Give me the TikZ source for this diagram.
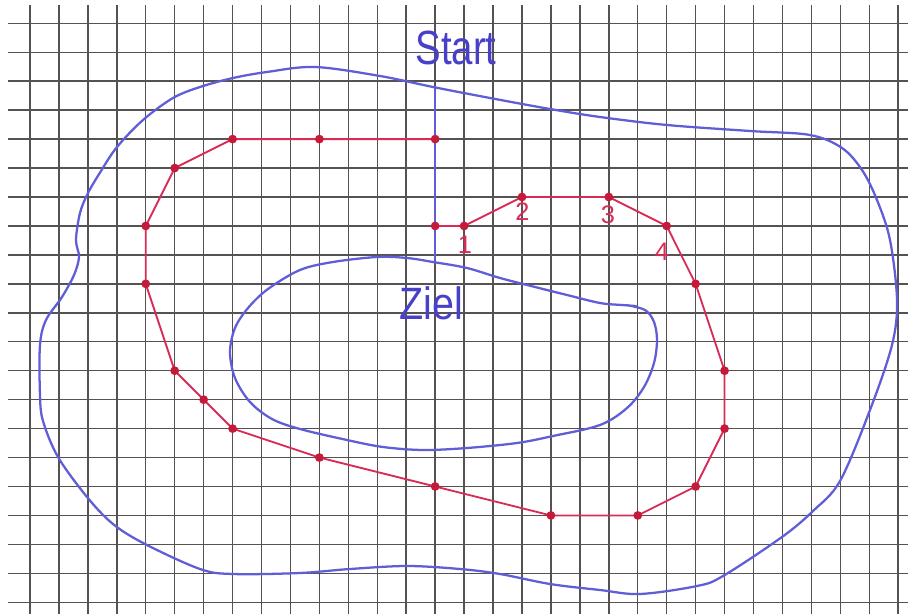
\documentclass[tikz,border=0pt]{standalone}
\usepackage{fontspec}
\setmainfont{Liberation Sans}
\definecolor{gridc}{RGB}{86,82,84}
\definecolor{penblue}{RGB}{96,94,214}
\definecolor{inkblue}{RGB}{72,64,200}
\definecolor{penred}{RGB}{216,44,86}
\definecolor{dotred}{RGB}{198,26,58}
\tikzset{
  gridline/.style={draw=gridc, line width=1.1pt},
  blueline/.style={draw=penblue, line width=1.7pt, line cap=round, line join=round},
  redline/.style={draw=penred, line width=1.4pt, line join=round},
  reddot/.style={fill=dotred, draw=none},
  bluetext/.style={text=inkblue, inner sep=0pt, anchor=base},
  redtext/.style={text=penred, inner sep=0pt, anchor=base, font=\fontsize{19}{21}\selectfont},
}
\begin{document}
\begin{tikzpicture}[x={(0.75pt,0)}, y={(0,-0.75pt)}]
\useasboundingbox (0,0) rectangle (908,614);
\fill[white] (0,0) rectangle (908,614);
% squared paper
\foreach \k in {0,...,30} \draw[gridline] ({30+28.94*\k},5) -- ({30+28.94*\k},614);
\foreach \j in {0,...,20} \draw[gridline] (8,{23.3+28.95*\j}) -- (908,{23.3+28.95*\j});
% outer blue boundary
\draw[blueline] plot[smooth cycle, tension=0.55] coordinates {
 (315,67) (380,76) (433,87) (490,98) (550,109) (600,117) (667,125) (750,131)
 (810,135) (842,148) (862,170) (877,200) (890,240) (897,300) (892,345) (870,410)
 (840,481) (813,511) (782,537) (723,576) (697,586) (640,594) (600,590) (550,584)
 (500,574) (460,569) (407,566) (350,569) (300,573) (233,574) (200,569) (145,544)
 (113,524) (87,497) (58,457) (43,421) (40,395) (40,345) (46,320) (62,297) (74,275)
 (79,257) (76,240) (80,213) (88,193) (101,171) (117,147) (143,120) (173,98)
 (200,87) (233,78) (267,72)};
% inner blue boundary
\draw[blueline] plot[smooth, tension=0.55] coordinates {
 (626,305) (645,310) (654,322) (657,340) (654,363) (644,387) (627,408) (600,425)
 (553,436) (517,443) (467,448) (423,450) (383,447) (347,440) (300,429) (272,419)
 (250,402) (235,378) (230,352) (235,328) (248,308) (268,289) (300,270) (333,262)
 (377,257) (407,258) (433,262) (467,268) (500,278) (535,287) (567,295) (600,303)
 (622,305) (636,306)};
\begin{scope}[shift={(30,23.3)}, x={(21.705pt,0)}, y={(0,-21.7125pt)}]
  \coordinate (T1) at (14,2.2);
  \coordinate (T2) at (14,8.25);
  \draw[blueline] (T1) -- (T2);
  \coordinate (S) at (14,4);
  \coordinate (Q) at (14,7);
  \coordinate (P1) at (15,7);
  \coordinate (P2) at (17,6);
  \coordinate (P3) at (20,6);
  \coordinate (P4) at (22,7);
  \coordinate (P5) at (23,9);
  \coordinate (P6) at (24,12);
  \coordinate (P7) at (24,14);
  \coordinate (P8) at (23,16);
  \coordinate (P9) at (21,17);
  \coordinate (P10) at (18,17);
  \coordinate (P11) at (14,16);
  \coordinate (P12) at (10,15);
  \coordinate (P13) at (7,14);
  \coordinate (P14) at (6,13);
  \coordinate (P15) at (5,12);
  \coordinate (P16) at (4,9);
  \coordinate (P17) at (4,7);
  \coordinate (P18) at (5,5);
  \coordinate (P19) at (7,4);
  \coordinate (P20) at (10,4);
  \draw[redline] (Q) -- (P1) -- (P2) -- (P3) -- (P4) -- (P5) -- (P6) -- (P7) -- (P8)
    -- (P9) -- (P10) -- (P11) -- (P12) -- (P13) -- (P14) -- (P15) -- (P16) -- (P17)
    -- (P18) -- (P19) -- (P20) -- (S);
  \foreach \p in {S,Q,P1,P2,P3,P4,P5,P6,P7,P8,P9,P10,P11,P12,P13,P14,P15,P16,P17,P18,P19,P20}
    \fill[reddot] (\p) circle (3.3pt);
\end{scope}
% texts
\node[bluetext, font=\fontsize{36}{40}\selectfont] (start) at (456,64) {\scalebox{0.8}[1]{Start}};
\node[bluetext, font=\fontsize{34}{38}\selectfont] (ziel) at (431,319) {\scalebox{0.87}[1]{Ziel}};
\node[redtext] (n1) at (465,253) {1};
\node[redtext] (n2) at (522.5,220) {2};
\node[redtext] (n3) at (608,223) {3};
\node[redtext] (n4) at (662,260) {4};
\end{tikzpicture}
\end{document}
